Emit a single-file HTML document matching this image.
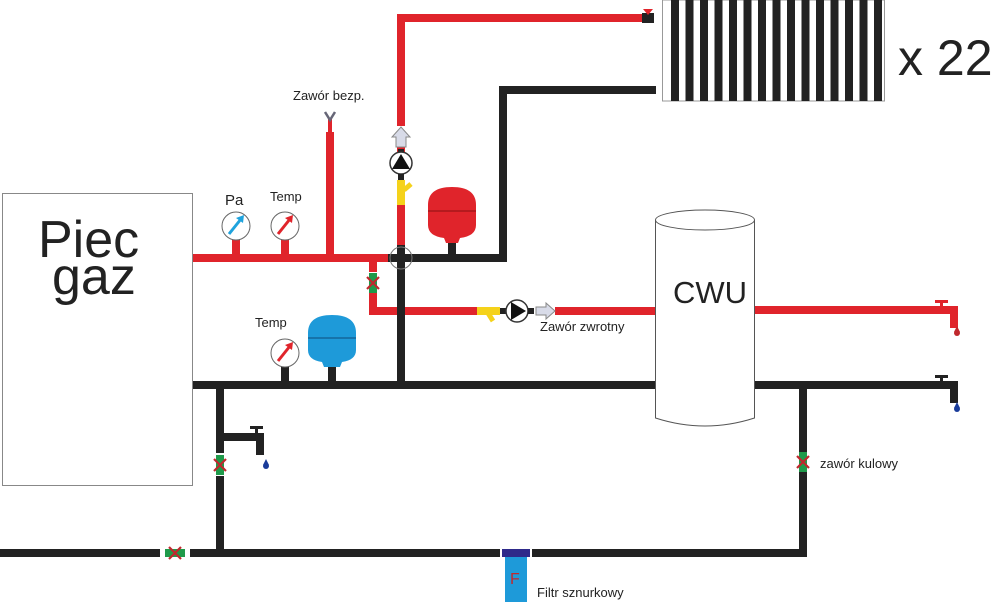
<!DOCTYPE html>
<html><head><meta charset="utf-8"><style>
body{margin:0;background:#fff}
svg{display:block;font-family:"Liberation Sans",Arial,sans-serif}
</style></head><body>
<svg width="1000" height="602" viewBox="0 0 1000 602" xmlns="http://www.w3.org/2000/svg">
<defs>
<g id="valve">
<rect x="-4" y="-10" width="8" height="20" fill="#1f9a4a"/>
<path d="M-6,-6 L6,6 M6,-6 L-6,6" stroke="#c0282d" stroke-width="2.2"/>
</g>
<g id="valveH">
<rect x="-10" y="-4" width="20" height="8" fill="#1f9a4a"/>
<path d="M-6,-6 L6,6 M6,-6 L-6,6" stroke="#c0282d" stroke-width="2.2"/>
</g>
</defs>
<!-- Piec -->
<rect x="2.5" y="193.5" width="190" height="292" fill="#fff" stroke="#888" stroke-width="1"/>
<text x="38" y="257" font-size="52" fill="#222">Piec</text>
<text x="52" y="294" font-size="52" fill="#222">gaz</text>

<!-- radiator -->
<rect x="662.5" y="0" width="222" height="101" fill="#fff" stroke="#999"/>
<g fill="#222">
<rect x="671" y="0" width="8" height="101"/><rect x="685.5" y="0" width="8" height="101"/><rect x="700" y="0" width="8" height="101"/><rect x="714.5" y="0" width="8" height="101"/><rect x="729" y="0" width="8" height="101"/><rect x="743.5" y="0" width="8" height="101"/><rect x="758" y="0" width="8" height="101"/><rect x="772.5" y="0" width="8" height="101"/><rect x="787" y="0" width="8" height="101"/><rect x="801.5" y="0" width="8" height="101"/><rect x="816" y="0" width="8" height="101"/><rect x="830.5" y="0" width="8" height="101"/><rect x="845" y="0" width="8" height="101"/><rect x="859.5" y="0" width="8" height="101"/><rect x="874" y="0" width="8" height="101"/>
</g>
<text x="898" y="75" font-size="50" fill="#222">x 22</text>

<!-- red supply -->
<g fill="#e0242b">
<rect x="193" y="254" width="203" height="8"/>
<rect x="397" y="14" width="8" height="112"/>
<rect x="397" y="14" width="245" height="8"/>
<rect x="397" y="205" width="8" height="40"/>
<rect x="397" y="147" width="8" height="6"/>
<rect x="326" y="132" width="8" height="124"/>
<rect x="328" y="118" width="4" height="14"/>
<rect x="369" y="254" width="8" height="18"/>
<rect x="369" y="290" width="8" height="25"/>
<rect x="369" y="307" width="108" height="8"/>
<rect x="555" y="307" width="100" height="8"/>
<rect x="755" y="306" width="170" height="8"/>
</g>
<rect x="642" y="13" width="12" height="10" fill="#222"/>
<path d="M643,9 L653,9 L648,15 Z" fill="#e0242b"/>
<path d="M325,112 L330,120 L335,112" stroke="#667" stroke-width="2.5" fill="none"/>
<path d="M396,147 L396,137 L392,137 L401,127 L410,137 L406,137 L406,147 Z" fill="#d8dbe8" stroke="#888"/>
<rect x="398" y="149" width="6" height="6" fill="#222"/>
<circle cx="401" cy="163" r="11" fill="#fff" stroke="#333" stroke-width="1.5"/>
<path d="M392,169 L401,154 L410,169 Z" fill="#111"/>
<rect x="398" y="174" width="6" height="6" fill="#222"/>
<rect x="397" y="180" width="8" height="25" fill="#f5d21a"/>
<path d="M404,190 L411,184" stroke="#f5d21a" stroke-width="5"/>
<rect x="397" y="245" width="8" height="140" fill="#222"/>
<rect x="388" y="254" width="26" height="8" fill="#222"/>
<circle cx="401" cy="258" r="11" fill="none" stroke="#777" stroke-width="1"/>
<path d="M428,205 Q428,187 452,187 Q476,187 476,205 L476,225 Q476,236 460,238 L458,243 L446,243 L444,238 Q428,236 428,225 Z" fill="#e0242b"/>
<line x1="428" y1="211" x2="476" y2="211" stroke="#8a1010"/>
<rect x="448" y="243" width="8" height="12" fill="#222"/>
<g fill="#222">
<rect x="414" y="254" width="93" height="8"/>
<rect x="499" y="86" width="8" height="176"/>
<rect x="499" y="86" width="157" height="8"/>
<rect x="193" y="381" width="462" height="8"/>
<rect x="755" y="381" width="170" height="8"/>
<rect x="799" y="381" width="8" height="72"/>
<rect x="799" y="471" width="8" height="86"/>
<rect x="0" y="549" width="160" height="8"/>
<rect x="190" y="549" width="310" height="8"/>
<rect x="532" y="549" width="275" height="8"/>
<rect x="216" y="381" width="8" height="72"/>
<rect x="216" y="476" width="8" height="80"/>
<rect x="220" y="433" width="42" height="8"/>
<rect x="256" y="433" width="8" height="22"/>
<rect x="250" y="426" width="13" height="3"/><rect x="255" y="426" width="3" height="8"/>
</g>
<circle cx="266" cy="466" r="3" fill="#1a3c9a"/><path d="M263,465 L266,459 L269,465Z" fill="#1a3c9a"/>
<use href="#valve" x="373" y="283"/>
<use href="#valve" x="220" y="465"/>
<use href="#valve" x="803" y="462"/>
<use href="#valveH" x="175" y="553"/>
<rect x="477" y="307" width="23" height="8" fill="#f5d21a"/>
<path d="M488,313 L493,321" stroke="#f5d21a" stroke-width="5"/>
<rect x="500" y="308" width="6" height="6" fill="#222"/>
<circle cx="517" cy="311" r="11" fill="#fff" stroke="#333" stroke-width="1.5"/>
<path d="M511,302 L526,311 L511,320 Z" fill="#111"/>
<rect x="528" y="308" width="6" height="6" fill="#222"/>
<path d="M536,307 L546,307 L546,303 L555,311 L546,319 L546,315 L536,315 Z" fill="#d8dbe8" stroke="#888"/>
<text x="540" y="331" font-size="13" fill="#222">Zawór zwrotny</text>
<g>
<rect x="232" y="236" width="8" height="20" fill="#e0242b"/>
<circle cx="236" cy="226" r="14" fill="#fff" stroke="#666"/>
<path d="M229,234 L241,219" stroke="#1fa3dd" stroke-width="3"/><path d="M236,218 L244,215 L243,223Z" fill="#1fa3dd"/>
<rect x="281" y="236" width="8" height="20" fill="#e0242b"/>
<circle cx="285" cy="226" r="14" fill="#fff" stroke="#666"/>
<path d="M278,234 L290,219" stroke="#e0242b" stroke-width="3"/><path d="M285,218 L293,215 L292,223Z" fill="#e0242b"/>
<rect x="281" y="362" width="8" height="20" fill="#222"/>
<circle cx="285" cy="353" r="14" fill="#fff" stroke="#666"/>
<path d="M278,361 L290,346" stroke="#e0242b" stroke-width="3"/><path d="M285,345 L293,342 L292,350Z" fill="#e0242b"/>
</g>
<text x="225" y="205" font-size="15" fill="#222">Pa</text>
<text x="270" y="201" font-size="13" fill="#222">Temp</text>
<text x="255" y="327" font-size="13" fill="#222">Temp</text>
<text x="293" y="100" font-size="13" fill="#222">Zawór bezp.</text>
<path d="M308,333 Q308,315 332,315 Q356,315 356,333 L356,350 Q356,360 342,362 L340,367 L324,367 L322,362 Q308,360 308,350 Z" fill="#1e9ad9"/>
<line x1="308" y1="338" x2="356" y2="338" stroke="#0d4c7a"/>
<rect x="328" y="367" width="8" height="15" fill="#222"/>
<path d="M655.5,220 L655.5,418 Q705,434 754.5,418 L754.5,220" fill="#fff" stroke="#555"/>
<ellipse cx="705" cy="220" rx="49.5" ry="10" fill="#fff" stroke="#555"/>
<text x="673" y="303" font-size="31" fill="#222">CWU</text>
<g fill="#e0242b">
<rect x="925" y="306" width="30" height="8"/><rect x="950" y="306" width="8" height="22"/>
<rect x="935" y="300" width="13" height="3"/><rect x="940" y="300" width="3" height="7"/>
</g>
<circle cx="957" cy="333" r="3" fill="#c0282d"/><path d="M954,332 L957,326 L960,332Z" fill="#c0282d"/>
<g fill="#222">
<rect x="925" y="381" width="30" height="8"/><rect x="950" y="381" width="8" height="22"/>
<rect x="935" y="375" width="13" height="3"/><rect x="940" y="375" width="3" height="7"/>
</g>
<circle cx="957" cy="409" r="3" fill="#1a3c9a"/><path d="M954,408 L957,402 L960,408Z" fill="#1a3c9a"/>
<text x="820" y="468" font-size="13" fill="#222">zawór kulowy</text>
<rect x="502" y="549" width="28" height="8" fill="#2e2a8a"/>
<rect x="505" y="557" width="22" height="45" fill="#1e9ad9"/>
<text x="510" y="584" font-size="16" fill="#c0282d">F</text>
<text x="537" y="597" font-size="13" fill="#222">Filtr sznurkowy</text>
</svg>
</body></html>
